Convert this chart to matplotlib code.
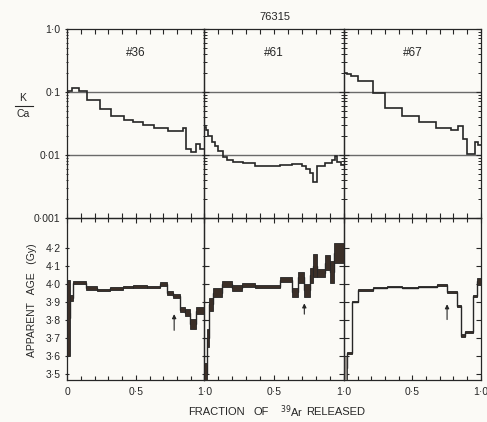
import matplotlib
matplotlib.use('Agg')
import matplotlib.pyplot as plt
import numpy as np
from matplotlib.ticker import MultipleLocator, FixedLocator, FixedFormatter, LogLocator, NullFormatter
from matplotlib.lines import Line2D

plt.rcParams['font.family'] = ['Liberation Sans', 'DejaVu Sans']

# ---------------- data ----------------
title = '76315'
samples = ['#36', '#61', '#67']

# K/Ca step spectra (fraction of 39Ar released edges, K/Ca values)
kca36_edges = [0, 0.036, 0.085, 0.145, 0.238, 0.316, 0.417, 0.481, 0.556, 0.633, 0.738, 0.845, 0.868, 0.902, 0.943, 0.972, 1.0]
kca36_vals = [0.103, 0.114, 0.104, 0.0725, 0.053, 0.0405, 0.0355, 0.0325, 0.0293, 0.0266, 0.024, 0.027, 0.0121, 0.0111, 0.0147, 0.0124]

kca61_edges = [0, 0.012, 0.029, 0.053, 0.076, 0.1, 0.131, 0.16, 0.208, 0.279, 0.363, 0.542, 0.625, 0.697, 0.728, 0.756, 0.780, 0.806, 0.864, 0.912, 0.936, 0.947, 0.976, 1.0]
kca61_vals = [0.0278, 0.0247, 0.0198, 0.0161, 0.0137, 0.0114, 0.0091, 0.0082, 0.0077, 0.0073, 0.0067, 0.0068, 0.0071, 0.0066, 0.0059, 0.0051, 0.0037, 0.0066, 0.0075, 0.0082, 0.0095, 0.0077, 0.0068]

kca67_edges = [0, 0.02, 0.05, 0.105, 0.215, 0.303, 0.425, 0.548, 0.675, 0.78, 0.837, 0.87, 0.903, 0.955, 0.98, 1.0]
kca67_vals = [0.2, 0.19, 0.177, 0.148, 0.095, 0.055, 0.041, 0.0335, 0.027, 0.025, 0.029, 0.0175, 0.0103, 0.016, 0.0144]

# Apparent age spectra (Gy): step edges, centre ages, half-heights of boxes
age36_edges = [0, 0.02, 0.039, 0.136, 0.214, 0.311, 0.409, 0.482, 0.579, 0.676, 0.725, 0.774, 0.822, 0.859, 0.895, 0.939, 1.0]
age36_vals = [3.81, 3.92, 4.005, 3.975, 3.965, 3.974, 3.98, 3.984, 3.98, 3.996, 3.945, 3.932, 3.855, 3.838, 3.775, 3.85]
age36_errs = [0.21, 0.015, 0.007, 0.009, 0.007, 0.008, 0.007, 0.007, 0.007, 0.012, 0.011, 0.011, 0.015, 0.018, 0.027, 0.02]

age61_edges = [0, 0.017, 0.036, 0.064, 0.124, 0.196, 0.267, 0.363, 0.542, 0.625, 0.673, 0.712, 0.754, 0.78, 0.806, 0.864, 0.897, 0.93, 1.0]
age61_vals = [3.50, 3.70, 3.885, 3.95, 3.998, 3.977, 3.992, 3.982, 4.022, 3.951, 4.035, 3.962, 4.047, 4.10, 4.058, 4.116, 4.064, 4.17]
age61_errs = [0.06, 0.05, 0.035, 0.025, 0.015, 0.017, 0.013, 0.008, 0.014, 0.027, 0.03, 0.036, 0.042, 0.063, 0.022, 0.04, 0.06, 0.057]

age67_edges = [0, 0.02, 0.056, 0.105, 0.215, 0.312, 0.422, 0.544, 0.678, 0.751, 0.824, 0.854, 0.885, 0.946, 0.976, 1.0]
age67_vals = [3.53, 3.615, 3.90, 3.965, 3.978, 3.983, 3.978, 3.983, 3.99, 3.955, 3.875, 3.71, 3.732, 3.93, 4.012]
age67_errs = [0.07, 0.005, 0.005, 0.005, 0.004, 0.004, 0.004, 0.004, 0.005, 0.005, 0.005, 0.008, 0.006, 0.006, 0.02]

# arrows (fraction, tail age, head age)
arrow_frac = [0.78, 0.716, 0.754]
arrow_tail = [3.74, 3.83, 3.80]
arrow_head = [3.83, 3.89, 3.885]

kca_ticks = [1.0, 0.1, 0.01, 0.001]
kca_ticklabels = ['1·0', '0·1', '0·01', '0·001']
age_ticks = [3.5, 3.6, 3.7, 3.8, 3.9, 4.0, 4.1, 4.2]
age_ticklabels = ['3·5', '3·6', '3·7', '3·8', '3·9', '4·0', '4·1', '4·2']

# ---------------- style ----------------
W, H = 487, 422
BG = '#fbfaf6'
LINE = '#262626'
GRID = '#6a6a6a'
BOXC = '#3b2f28'

fig = plt.figure(figsize=(W / 100, H / 100), dpi=100)
fig.patch.set_facecolor(BG)


def rect(x0, y0, x1, y1):
    return [x0 / W, 1 - y1 / H, (x1 - x0) / W, (y1 - y0) / H]


cols = [(67.3, 204.3), (204.3, 344.0), (344.0, 480.7)]
top_y = (28.7, 217.7)
bot_y = (217.7, 380.0)

kca_sets = [(kca36_edges, kca36_vals), (kca61_edges, kca61_vals), (kca67_edges, kca67_vals)]
age_sets = [(age36_edges, age36_vals, age36_errs), (age61_edges, age61_vals, age61_errs),
            (age67_edges, age67_vals, age67_errs)]

for i, (c0, c1) in enumerate(cols):
    # ---- K/Ca panel ----
    ax = fig.add_axes(rect(c0, top_y[0], c1, top_y[1]))
    ax.set_facecolor('none')
    ax.set_yscale('log')
    ax.set_xlim(0, 1)
    ax.set_ylim(1e-3, 1.0)
    for v in (0.1, 0.01):
        ax.axhline(v, color=GRID, lw=1.0, zorder=1)
    e, v = kca_sets[i]
    ax.stairs(v, e, baseline=None, color=LINE, lw=1.2, zorder=3)
    ax.text(0.5, 0.87, samples[i], transform=ax.transAxes, ha='center', va='center',
            fontsize=8.5, color=LINE)
    ax.xaxis.set_major_locator(MultipleLocator(0.1))
    ax.xaxis.set_major_formatter(NullFormatter())
    ax.yaxis.set_major_locator(FixedLocator(kca_ticks))
    ax.yaxis.set_minor_locator(LogLocator(base=10, subs=np.arange(2, 10)))
    ax.yaxis.set_minor_formatter(NullFormatter())
    if i == 0:
        ax.yaxis.set_major_formatter(FixedFormatter(kca_ticklabels))
    else:
        ax.yaxis.set_major_formatter(NullFormatter())
    ax.tick_params(axis='both', which='both', direction='in', top=True, right=True,
                   color=LINE, labelsize=7.5, labelcolor=LINE, pad=3)
    ax.tick_params(axis='both', which='major', length=3.5, width=0.8)
    ax.tick_params(axis='both', which='minor', length=2, width=0.7)
    if i == 0:
        ax.tick_params(axis='y', which='both', direction='inout')
    for s in ax.spines.values():
        s.set_color(LINE)
        s.set_linewidth(0.9)

    # ---- Age panel ----
    bx = fig.add_axes(rect(c0, bot_y[0], c1, bot_y[1]))
    bx.set_facecolor('none')
    bx.set_xlim(0, 1)
    bx.set_ylim(3.464, 4.366)
    e, v, er = age_sets[i]
    e = np.asarray(e)
    v = np.asarray(v)
    er = np.asarray(er)
    colors = [BOXC] * len(v)
    if i == 2:
        colors[0] = '#8a8580'
    bx.bar(e[:-1], 2 * er, width=np.diff(e), bottom=v - er, align='edge',
           color=colors, edgecolor=LINE, linewidth=0.6, zorder=3)
    bx.stairs(v, e, baseline=None, color=LINE, lw=1.0, zorder=2)
    bx.annotate('', xy=(arrow_frac[i], arrow_head[i]), xytext=(arrow_frac[i], arrow_tail[i]),
                arrowprops=dict(arrowstyle='-|>', color=LINE, lw=0.8, mutation_scale=6,
                                shrinkA=0, shrinkB=0))
    bx.yaxis.set_major_locator(FixedLocator(age_ticks))
    if i == 0:
        bx.yaxis.set_major_formatter(FixedFormatter(age_ticklabels))
        xl = ['0', '0·5', '1·0']
    else:
        bx.yaxis.set_major_formatter(NullFormatter())
        xl = ['', '0·5', '1·0']
    bx.xaxis.set_major_locator(FixedLocator([0, 0.5, 1.0]))
    bx.xaxis.set_major_formatter(FixedFormatter(xl))
    bx.xaxis.set_minor_locator(MultipleLocator(0.1))
    bx.tick_params(axis='both', which='both', direction='in', top=True, right=True,
                   color=LINE, labelsize=7.5, labelcolor=LINE, pad=3)
    bx.tick_params(axis='both', which='major', length=3.5, width=0.8)
    bx.tick_params(axis='both', which='minor', length=3, width=0.8)
    bx.tick_params(axis='x', which='major', pad=5)
    if i == 0:
        bx.tick_params(axis='y', which='both', direction='inout')
    for s in bx.spines.values():
        s.set_color(LINE)
        s.set_linewidth(0.9)

# ---- text ----
def ftext(x, y, s, **kw):
    fig.text(x / W, 1 - y / H, s, color=LINE, **kw)

ftext(275, 17, title, ha='center', va='center', fontsize=8)
ftext(23, 98, 'K', ha='center', va='center', fontsize=7.5)
ftext(23, 114, 'Ca', ha='center', va='center', fontsize=7.5)
fig.add_artist(Line2D([15 / W, 33 / W], [1 - 106 / H, 1 - 106 / H], color=LINE, lw=0.8))
ftext(32, 300, 'APPARENT   AGE   (Gy)', ha='center', va='center', rotation=90, fontsize=7.5)

ftext(216, 412, 'FRACTION', ha='center', va='center', fontsize=8)
ftext(261, 412, 'OF', ha='center', va='center', fontsize=8)
ftext(292, 412, r'$^{39}$Ar', ha='center', va='center', fontsize=8)
ftext(336, 412, 'RELEASED', ha='center', va='center', fontsize=8)

fig.savefig('out.png', dpi=100, facecolor=BG)
